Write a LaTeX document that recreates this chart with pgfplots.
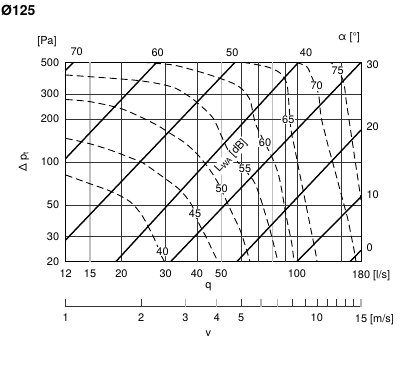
\documentclass[border=0pt]{standalone}
\usepackage{pgfplots}
\pgfplotsset{compat=1.18}
\usepackage{fontspec}
\setmainfont{TeX Gyre Heros}
\begin{document}
\begin{tikzpicture}
\useasboundingbox (0bp,0bp) rectangle (400bp,366bp);
\tikzset{lbl/.style={font=\fontsize{11}{13}\selectfont, inner sep=0.8bp},
         clbl/.style={lbl, fill=white}}
\begin{axis}[at={(65.7bp,104.3bp)}, anchor=south west, scale only axis,
  width=295.3bp, height=199.4bp,
  xmode=log, ymode=log, xmin=12, xmax=180, ymin=20, ymax=500,
  xtick={12,15,20,30,40,50,100,180},
  xticklabels={12,\raisebox{-2.5bp}{15},20,30,40,50,100,180\rlap{ [l/s]}},
  ytick={20,30,50,100,200,300,500},
  yticklabels={20,30,50,100,200,300,500},
  major tick length=0pt,
  tick label style={font=\fontsize{11}{13}\selectfont},
  xticklabel style={yshift=-5bp},
  yticklabel style={xshift=-3bp},
  axis line style={line width=0.6bp},
  clip=true]
\pgfplotsinvokeforeach{20,30,40,60,70,90,100,150}{\draw[black!80,line width=0.45bp] (axis cs:#1,20) -- (axis cs:#1,500);}
\pgfplotsinvokeforeach{15,50,80}{\draw[black!25,line width=1.3bp] (axis cs:#1,20) -- (axis cs:#1,500);}
\pgfplotsinvokeforeach{30,50,100,200,300}{\draw[black!80,line width=0.45bp] (axis cs:12,#1) -- (axis cs:180,#1);}
% damper angle lines
\addplot[black, line width=1.4bp] coordinates {(12,441) (12.9,500)};
\addplot[black, line width=1.4bp] coordinates {(12,106) (27.65,500)};
\addplot[black, line width=1.4bp] coordinates {(12,28.4) (56.7,500)};
\addplot[black, line width=1.4bp] coordinates {(19.0,20) (101.5,500)};
\addplot[black, line width=1.4bp] coordinates {(31.4,20) (180,500)};
\addplot[black, line width=1.4bp] coordinates {(57.6,20) (180,167.6)};
\addplot[black, line width=1.4bp] coordinates {(99.8,20) (180,57)};
\addplot[black, line width=1.4bp] coordinates {(162.7,20) (180,24)};
% sound power curves
\addplot[black, line width=0.9bp, dash pattern=on 7bp off 4bp, smooth, tension=0.5] coordinates {
(12,81.1)(14.73,71.2)(18.3,61.9)(21.64,52.7)(24.09,42.5)(26.41,31.6)(27.72,26.2)(28.75,22.3)(29.7,20)};
\addplot[black, line width=0.9bp, dash pattern=on 7bp off 4bp, smooth, tension=0.5] coordinates {
(12,146.6)(14.76,135.2)(18.01,121.4)(21.99,106.2)(24.38,98.4)(29.29,78.5)(34.23,63.6)(38.11,50)(40.38,38.2)(43.73,29.2)(46.33,23.5)(48.52,20)};
\addplot[black, line width=0.9bp, dash pattern=on 7bp off 4bp, smooth, tension=0.5] coordinates {
(12,274.3)(15,264.8)(19.74,238)(23.72,207.8)(27.65,181.7)(31.24,158.9)(35.85,135.9)(40.38,112)(45.06,87.9)(48.52,71.2)(52.2,54.2)(55.66,42.5)(59.36,33.4)(62.14,26.2)(65.07,20)};
\addplot[black, line width=0.9bp, dash pattern=on 7bp off 4bp, smooth, tension=0.5] coordinates {
(12,407.4)(15,396.3)(22.25,375.7)(27.65,356.2)(32.69,330.3)(37.52,285.5)(41.12,250.9)(46.33,203.5)(49.85,154.7)(53.18,121.4)(57.22,103.3)(66.86,74.8)(71.28,56.9)(74.64,43.9)(78.15,33.4)(81.83,24.2)(84.1,20)};
\addplot[black, line width=0.9bp, dash pattern=on 7bp off 4bp, smooth, tension=0.5] coordinates {
(24.38,500)(32.11,478.7)(38.56,441.5)(45.06,407.4)(55.66,356.2)(61.0,319.7)(65.07,272.1)(66.86,219.5)(69.18,176.8)(79.38,109.0)(84.1,83.7)(86.99,63.6)(89.68,46.1)(92.43,35.2)(95.37,26.9)(97.39,20)};
\addplot[black, line width=0.9bp, dash pattern=on 7bp off 4bp, smooth, tension=0.5] coordinates {
(61,500)(75.82,465.7)(85.66,420.7)(91.07,356.2)(92.43,286.9)(93.29,231.5)(94.75,167.6)(98.29,121.4)(101.9,87.9)(105.8,63.6)(109.7,46.1)(113.8,33.4)(118.1,24.2)(120.3,20)};
\addplot[black, line width=0.9bp, dash pattern=on 7bp off 4bp, smooth, tension=0.5] coordinates {
(99.2,500)(109.4,465.7)(114.5,396.3)(121.7,303.1)(123.6,238)(125.5,197)(129.4,158.9)(133.4,128)(138,103.3)(143.2,81.1)(148.5,63.6)(154.1,50)(159.8,39.2)(164.3,30.8)(168.9,24.2)(172,20)};
\addplot[black, line width=0.9bp, dash pattern=on 7bp off 4bp, smooth, tension=0.5] coordinates {
(130.6,500)(139.3,486.5)(152.7,375.7)(157,272.1)(161.3,197)(165.8,142.7)(170.4,103.3)(175.2,74.8)(180,54.1)};
\end{axis}
% velocity scale
\begin{axis}[at={(65.7bp,59.3bp)}, anchor=south west, scale only axis,
  width=295.3bp, height=20bp,
  xmode=log, xmin=1, xmax=15, ymin=0, ymax=1,
  axis x line*=bottom, axis y line=none,
  xtick={1,2,5,8,9,10,11,12,13,14},
  xticklabels={1,2,5,,,10,,,,},
  extra x ticks={3,4,6,7,15},
  extra x tick labels={3,4,,,15\rlap{ [m/s]}},
  extra x tick style={major tick style={black!30, line width=1.2bp}},
  major tick style={black!80, line width=0.5bp},
  xtick align=inside, major tick length=8bp,
  axis line style={black!80, line width=0.5bp},
  tick label style={font=\fontsize{11}{13}\selectfont},
  xticklabel style={yshift=-4bp}]
\addplot[draw=none] coordinates {(1,0) (15,0)};
\end{axis}
% texts
\begin{scope}[x=1bp,y=1bp]
\node[anchor=base west, font=\bfseries\fontsize{14}{16}\selectfont, inner sep=0pt] at (1,351) {Ø125};
\node[lbl] at (47,324) {[Pa]};
\node[lbl, rotate=90] at (24,204.3) {Δ p\textsubscript{t}};
\node[lbl] at (208.3,79.3) {q};
\node[lbl] at (208.3,32.7) {v};
\node[lbl] at (349,328) {α [°]};
\node[lbl] at (76.7,314.3) {70};
\node[lbl] at (157.7,313.3) {60};
\node[lbl] at (232.3,313.3) {50};
\node[lbl] at (306,313.3) {40};
\node[lbl, anchor=west] at (365.5,301) {30};
\node[lbl, anchor=west] at (365.5,239.3) {20};
\node[lbl, anchor=west] at (365.5,171) {10};
\node[lbl, anchor=west] at (365.5,118.7) {0};
\node[clbl] at (162.5,114.5) {40};
\node[clbl] at (195,152.5) {45};
\node[clbl] at (221.7,177.7) {50};
\node[clbl] at (245,197.7) {55};
\node[clbl] at (265,223.3) {60};
\node[clbl] at (288.3,246.7) {65};
\node[clbl] at (316.7,280) {70};
\node[clbl] at (337.7,295.3) {75};
\node[clbl, rotate=47] at (231,210) {L\textsubscript{WA} [dB]};
\end{scope}
\end{tikzpicture}
\end{document}
